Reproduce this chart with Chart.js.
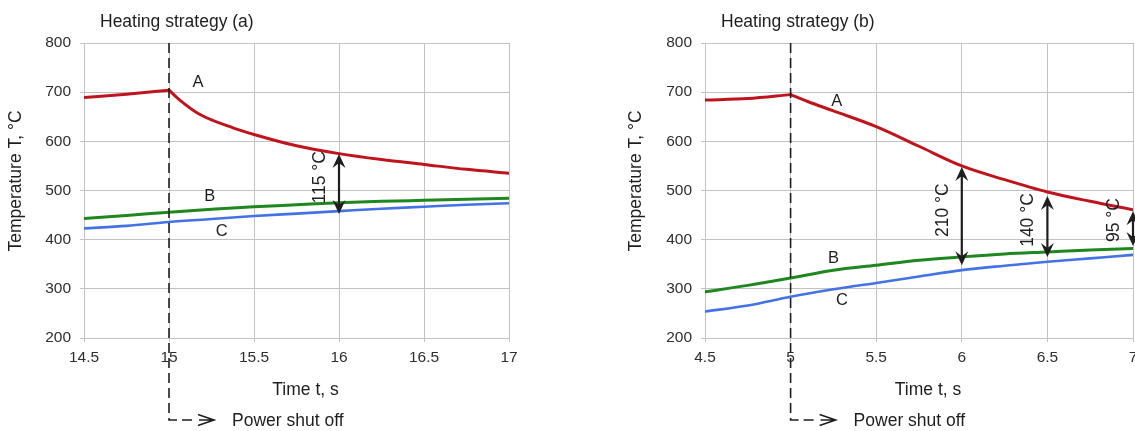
<!DOCTYPE html>
<html>
<head>
<meta charset="utf-8">
<script src="https://cdn.jsdelivr.net/npm/chart.js@4.4.1/dist/chart.umd.min.js"></script>
<style>
  html, body { margin: 0; padding: 0; background: #fff; width: 1135px; height: 431px; overflow: hidden; }
  .box { position: absolute; top: 0; height: 431px; }
</style>
</head>
<body>
<div class="box" style="left:0;width:560px"><canvas id="c1" width="560" height="431"></canvas></div>
<div class="box" style="left:620px;width:515px"><canvas id="c2" width="515" height="431"></canvas></div>
<script>
// ---------------- DATA ----------------
// Heating strategy (a)
const titleA = 'Heating strategy (a)';
const timeA1 = [14.5, 14.75, 15, 15.06, 15.18, 15.38, 15.5, 15.75, 16, 16.25, 16.5, 16.75, 17];
const curveA1 = [689, 696, 704, 685, 655, 627, 614, 591, 575, 563, 553, 543, 535];
const timeBC1 = [14.5, 14.75, 15, 15.25, 15.5, 15.75, 16, 16.25, 16.5, 16.75, 17];
const curveB1 = [443, 449, 456, 462, 467, 471, 475, 478, 480, 482, 484];
const curveC1 = [423, 428, 436, 442, 448, 453, 458, 463, 467, 471, 474];
const xTicks1 = [14.5, 15, 15.5, 16, 16.5, 17];
const shutoff1 = 15;
const curveNames1 = ['A', 'B', 'C'];
const curveNameAt1 = [[15.17, 719], [15.24, 487], [15.31, 416]];
const gapAt1 = [16];
const gapTop1 = [574];
const gapBottom1 = [452];
const gapText1 = ['115 °C'];
const gapTextAt1 = [527];

// Heating strategy (b)
const titleB = 'Heating strategy (b)';
const timeA2 = [4.5, 4.75, 5, 5.1, 5.25, 5.5, 5.75, 6, 6.25, 6.5, 6.75, 7];
const curveA2 = [684, 687, 695, 681, 662, 630, 590, 550, 522, 497, 478, 461];
const timeBC2 = [4.5, 4.75, 5, 5.25, 5.5, 5.75, 6, 6.25, 6.5, 6.75, 7];
const curveB2 = [294, 307, 322, 338, 348, 358, 365, 371, 375, 379, 382];
const curveC2 = [254, 266, 284, 299, 312, 325, 338, 347, 355, 362, 369];
const xTicks2 = [4.5, 5, 5.5, 6, 6.5, 7];
const shutoff2 = 5;
const curveNames2 = ['A', 'B', 'C'];
const curveNameAt2 = [[5.27, 681], [5.25, 362], [5.3, 277]];
const gapAt2 = [6, 6.5, 7];
const gapTop2 = [548, 489, 458];
const gapBottom2 = [348, 365, 387];
const gapText2 = ['210 °C', '140 °C', '95 °C'];
const gapTextAt2 = [460, 440, 440];

const yTicks = [200, 300, 400, 500, 600, 700, 800];
const yTitle = 'Temperature T, °C';
const xTitle = 'Time t, s';
const shutoffText = 'Power shut off';

// ---------------- STYLE ----------------
const FONT = "'Liberation Sans', Arial, Helvetica, sans-serif";
const INK = '#1e1e1e';
const GRID = '#c2c2c2';
const RED = '#c0141c';
const GREEN = '#1e871e';
const BLUE = '#4372e6';
Chart.defaults.font.family = FONT;

function pts(xs, ys, keep) {
  return xs.map((v, i) => ({ x: v, y: ys[i] })).filter(p => keep ? keep(p.x) : true);
}

function arrowHead(ctx, x, y, dir) {
  // dir = -1 : pointing up, +1 : pointing down
  ctx.beginPath();
  ctx.moveTo(x, y);
  ctx.lineTo(x - 6.5, y - dir * 14);
  ctx.lineTo(x, y - dir * 9);
  ctx.lineTo(x + 6.5, y - dir * 14);
  ctx.closePath();
  ctx.fill();
}

function overlay(cfg) {
  return {
    id: 'overlay',
    afterDatasetsDraw(chart) {
      const { ctx, chartArea: ca, scales: { x, y } } = chart;
      ctx.save();
      ctx.fillStyle = INK;
      ctx.strokeStyle = INK;

      // title
      ctx.font = '17.5px ' + FONT;
      ctx.textAlign = 'left';
      ctx.textBaseline = 'middle';
      ctx.fillText(cfg.title, ca.left + 16, 22);

      // y axis title
      ctx.save();
      ctx.translate(16, 181);
      ctx.rotate(-Math.PI / 2);
      ctx.textAlign = 'center';
      ctx.fillText(yTitle, 0, 0);
      ctx.restore();

      // x axis title
      ctx.textAlign = 'center';
      ctx.fillText(xTitle, (ca.left + ca.right) / 2 + 9, 390);

      // power shut off marker
      const sx = x.getPixelForValue(cfg.shutoff);
      const by = 420;
      ctx.lineWidth = 1.6;
      ctx.setLineDash([10, 5]);
      ctx.beginPath();
      ctx.moveTo(sx, ca.top);
      ctx.lineTo(sx, by);
      ctx.lineTo(sx + 27, by);
      ctx.stroke();
      ctx.setLineDash([]);
      ctx.beginPath();
      ctx.moveTo(sx + 30, by);
      ctx.lineTo(sx + 45, by);
      ctx.moveTo(sx + 29, by - 5.5);
      ctx.lineTo(sx + 45, by);
      ctx.lineTo(sx + 29, by + 5.5);
      ctx.stroke();
      ctx.textAlign = 'left';
      ctx.fillText(shutoffText, sx + 63, 421);

      // curve names
      ctx.font = '16.5px ' + FONT;
      ctx.textAlign = 'center';
      cfg.names.forEach((n, i) => {
        ctx.fillText(n, x.getPixelForValue(cfg.nameAt[i][0]), y.getPixelForValue(cfg.nameAt[i][1]));
      });

      // temperature difference arrows
      ctx.lineWidth = 2.2;
      cfg.gapAt.forEach((g, i) => {
        const px = x.getPixelForValue(g);
        const yt = y.getPixelForValue(cfg.gapTop[i]);
        const yb = y.getPixelForValue(cfg.gapBottom[i]);
        ctx.beginPath();
        ctx.moveTo(px, yt + 8);
        ctx.lineTo(px, yb - 8);
        ctx.stroke();
        arrowHead(ctx, px, yt, -1);
        arrowHead(ctx, px, yb, 1);
        ctx.save();
        ctx.font = '17.5px ' + FONT;
        ctx.translate(px - 19, y.getPixelForValue(cfg.gapTextAt[i]));
        ctx.rotate(-Math.PI / 2);
        ctx.textAlign = 'center';
        ctx.textBaseline = 'middle';
        ctx.fillText(cfg.gapText[i], 0, 0);
        ctx.restore();
      });
      ctx.restore();
    }
  };
}

function makeChart(id, cfg) {
  const s = cfg.shutoff;
  return new Chart(document.getElementById(id), {
    type: 'line',
    data: {
      datasets: [
        { data: pts(cfg.tA, cfg.A, t => t <= s), borderColor: RED, borderWidth: 3 },
        { data: pts(cfg.tA, cfg.A, t => t >= s), borderColor: RED, borderWidth: 3 },
        { data: pts(cfg.tBC, cfg.B), borderColor: GREEN, borderWidth: 3 },
        { data: pts(cfg.tBC, cfg.C), borderColor: BLUE, borderWidth: 2.6 }
      ].map(d => Object.assign(d, { pointRadius: 0, tension: 0.4, cubicInterpolationMode: 'monotone',
                                    fill: false, borderJoinStyle: 'round', borderCapStyle: 'round' }))
    },
    options: {
      responsive: false,
      animation: false,
      events: [],
      layout: { padding: { left: 0, right: cfg.padRight, top: 43, bottom: 0 }, autoPadding: false },
      plugins: { legend: { display: false }, tooltip: { enabled: false }, title: { display: false } },
      scales: {
        x: {
          type: 'linear',
          min: cfg.xTicks[0],
          max: cfg.xTicks[cfg.xTicks.length - 1],
          afterBuildTicks: sc => { sc.ticks = cfg.xTicks.map(v => ({ value: v })); },
          ticks: { font: { size: 15.5 }, color: '#2e2e2e', padding: 6, maxRotation: 0, autoSkip: false,
                   callback: v => String(v) },
          grid: { color: GRID, lineWidth: 1, tickLength: 4 },
          border: { color: GRID, width: 1 },
          afterFit: sc => { sc.height = 93; sc.paddingLeft = 0; sc.paddingRight = 0; }
        },
        y: {
          min: yTicks[0],
          max: yTicks[yTicks.length - 1],
          afterBuildTicks: sc => { sc.ticks = yTicks.map(v => ({ value: v })); },
          ticks: { font: { size: 15.5 }, color: '#2e2e2e', padding: 9, callback: v => String(v) },
          grid: { color: GRID, lineWidth: 1, tickLength: 4 },
          border: { color: GRID, width: 1 },
          afterFit: sc => { sc.width = cfg.yWidth; sc.paddingTop = 0; sc.paddingBottom = 0; }
        }
      }
    },
    plugins: [overlay(cfg)]
  });
}

makeChart('c1', {
  title: titleA, tA: timeA1, A: curveA1, tBC: timeBC1, B: curveB1, C: curveC1,
  xTicks: xTicks1, shutoff: shutoff1, names: curveNames1, nameAt: curveNameAt1,
  gapAt: gapAt1, gapTop: gapTop1, gapBottom: gapBottom1, gapText: gapText1, gapTextAt: gapTextAt1,
  yWidth: 84, padRight: 51
});
makeChart('c2', {
  title: titleB, tA: timeA2, A: curveA2, tBC: timeBC2, B: curveB2, C: curveC2,
  xTicks: xTicks2, shutoff: shutoff2, names: curveNames2, nameAt: curveNameAt2,
  gapAt: gapAt2, gapTop: gapTop2, gapBottom: gapBottom2, gapText: gapText2, gapTextAt: gapTextAt2,
  yWidth: 85, padRight: 2
});
</script>
</body>
</html>
